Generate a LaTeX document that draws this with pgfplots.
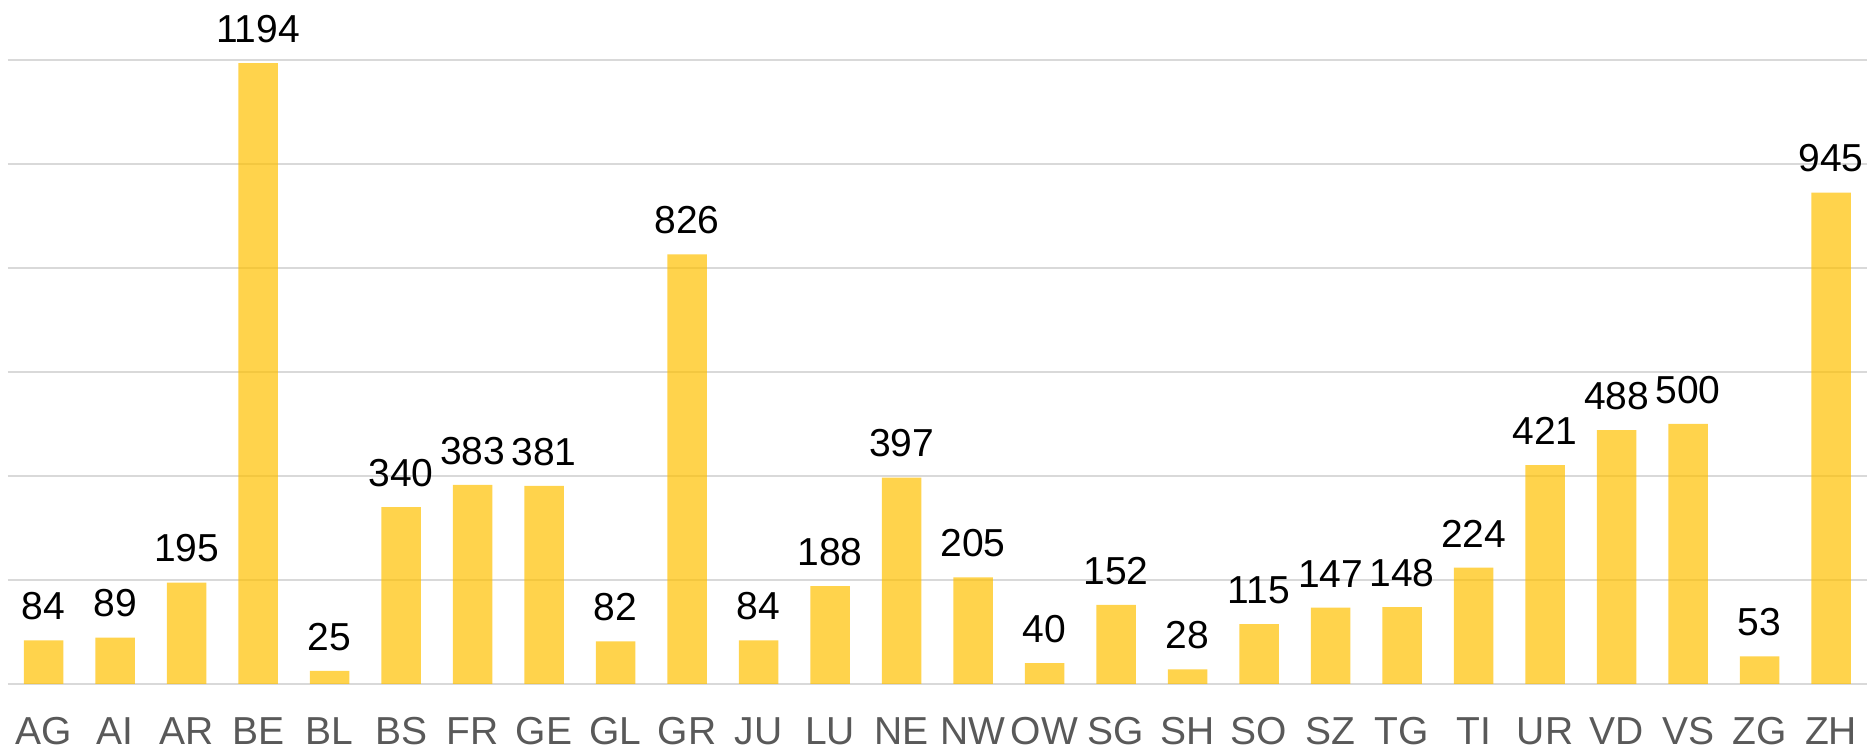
\documentclass[border=0pt]{standalone}
\usepackage{pgfplots}
\pgfplotsset{compat=1.18}
\usepackage{fontspec}
\setmainfont{Liberation Sans}
\definecolor{baryellow}{HTML}{FFC000}
\definecolor{gridgray}{HTML}{D9D9D9}
\definecolor{ticklab}{HTML}{595959}
\begin{document}
\begin{tikzpicture}
\begin{axis}[
  at={(0pt,0pt)}, anchor=south west,
  scale only axis,
  width=929.5pt, height=312pt,
  ybar, bar width=19.8pt,
  xmin=-0.5, xmax=25.5,
  ymin=0, ymax=1200,
  ytick={0,200,...,1200},
  yticklabels={},
  ymajorgrids,
  grid style={gridgray, line width=0.8pt},
  axis line style={draw=none},
  major tick length=0pt,
  xtick=data,
  xticklabels={AG,AI,AR,BE,BL,BS,FR,GE,GL,GR,JU,LU,NE,NW,OW,SG,SH,SO,SZ,TG,TI,UR,VD,VS,ZG,ZH},
  xticklabel style={font=\fontsize{19.5pt}{21pt}\selectfont, text=ticklab, inner sep=0pt, anchor=north, yshift=-16.5pt},
  nodes near coords,
  nodes near coords style={font=\fontsize{19.5pt}{21pt}\selectfont, text=black, inner sep=0pt, anchor=south, yshift=10pt,
    /pgf/number format/assume math mode=true, /pgf/number format/1000 sep={}},
  clip=false,
]
\addplot[fill=baryellow, fill opacity=0.7, draw=none, text opacity=1] coordinates {
(0,84) (1,89) (2,195) (3,1194) (4,25) (5,340) (6,383) (7,381) (8,82) (9,826)
(10,84) (11,188) (12,397) (13,205) (14,40) (15,152) (16,28) (17,115) (18,147) (19,148)
(20,224) (21,421) (22,488) (23,500) (24,53) (25,945)
};
\end{axis}
\pgfresetboundingbox
\path (-3.9pt,-35pt) rectangle (931.1pt,342pt);
\end{tikzpicture}
\end{document}
